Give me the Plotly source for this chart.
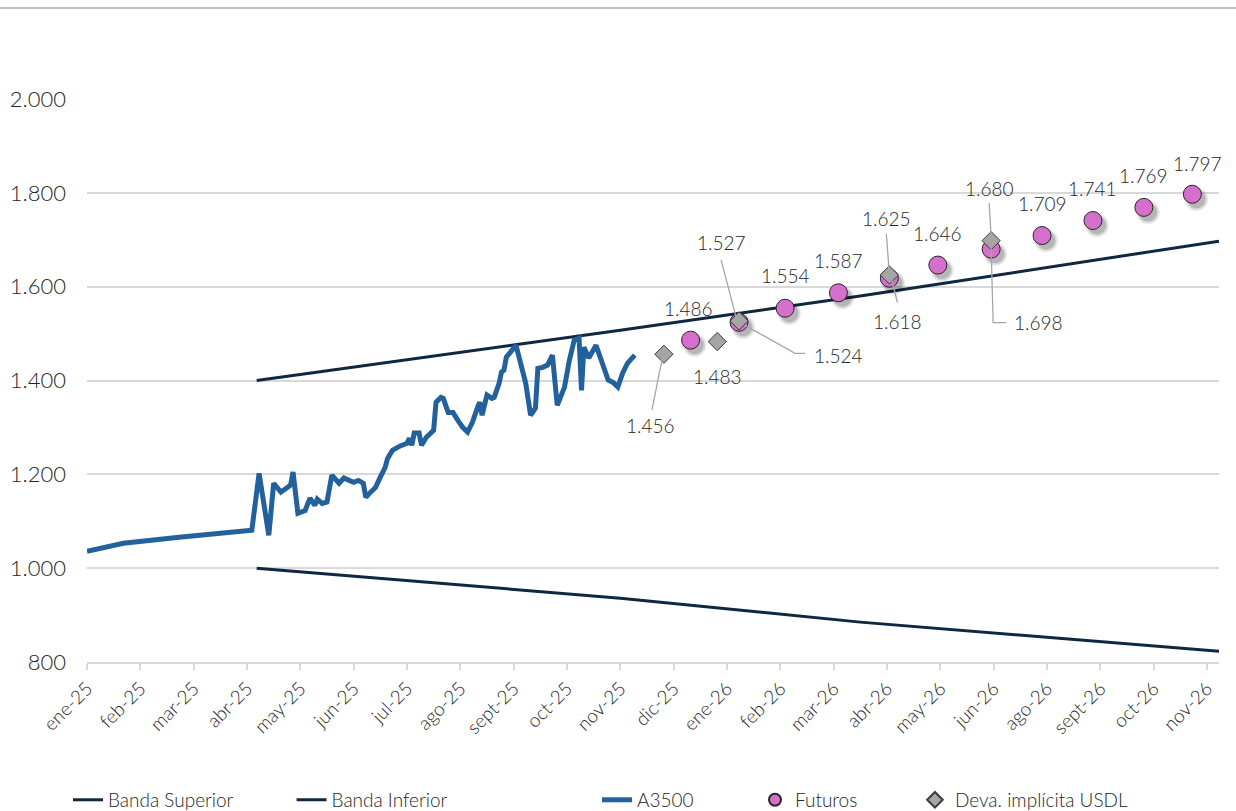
import plotly.graph_objects as go

# ---- eje X: días hábiles, con rótulo cada 22 ruedas ----
meses = ["ene-25", "feb-25", "mar-25", "abr-25", "may-25", "jun-25", "jul-25",
         "ago-25", "sept-25", "oct-25", "nov-25", "dic-25", "ene-26", "feb-26",
         "mar-26", "abr-26", "may-26", "jun-26", "ago-26", "sept-26", "oct-26",
         "nov-26"]
dias_rotulo = [22 * i for i in range(len(meses))]

# ---- tipo de cambio mayorista A3500 ----
dias_a3500 = [0, 15, 38, 68, 71, 75, 77, 80, 84, 85, 87, 90, 92, 94, 95, 97, 99,
              101, 104, 106, 110, 112, 114, 115, 117, 119, 121, 123, 124, 126,
              129, 132, 133, 134, 135, 137, 138, 140, 143, 144, 146, 147, 149,
              151, 153, 155, 157, 159, 161, 162, 163, 165, 167, 168, 170, 171,
              172, 173, 177, 181, 183, 185, 186, 188, 190, 192, 194, 197, 199,
              201, 203, 204, 205, 207, 210, 212, 215, 217, 219, 221, 223, 226]
a3500 = [1036, 1053, 1066, 1081, 1202, 1070, 1181, 1162, 1177, 1205, 1117, 1123,
         1149, 1134, 1147, 1138, 1141, 1198, 1181, 1192, 1183, 1187, 1181, 1151,
         1162, 1172, 1194, 1215, 1234, 1251, 1260, 1266, 1277, 1262, 1288, 1288,
         1262, 1279, 1294, 1354, 1364, 1362, 1332, 1332, 1315, 1300, 1290, 1311,
         1341, 1354, 1326, 1369, 1362, 1364, 1394, 1418, 1422, 1450, 1475, 1394,
         1326, 1341, 1426, 1428, 1433, 1454, 1347, 1386, 1443, 1486, 1490, 1379,
         1471, 1448, 1475, 1443, 1401, 1396, 1386, 1416, 1437, 1454]

# ---- bandas cambiarias ----
dias_banda = [70, 220, 319, 467]
banda_superior = [1400, 1507, 1580, 1697]
banda_inferior = [1000, 936, 885, 823]

# ---- futuros y devaluación implícita ----
dias_futuros = [249, 269, 288, 310, 331, 351, 373, 394, 415, 436, 456]
futuros = [1486, 1524, 1554, 1587, 1618, 1646, 1680, 1709, 1741, 1769, 1797]

dias_deva = [238, 260, 269, 331, 373]
deva_usdl = [1456, 1483, 1527, 1625, 1698]

AZUL_BANDA = "#0E2841"
AZUL_A3500 = "#22619C"
ROSA = "#D66FCB"
GRIS = "#A5A5A5"
TEXTO = "#262626"
GRILLA = "#D9D9D9"
FUENTE = "Lato"
PESO = 300


def fmt(v):
    return f"{v:,}".replace(",", ".")


def letra(tam):
    return dict(size=tam, color=TEXTO, family=FUENTE, weight=PESO)


fig = go.Figure()

fig.add_trace(go.Scatter(x=dias_banda, y=banda_superior, mode="lines",
                         name="Banda Superior", legend="legend",
                         line=dict(color=AZUL_BANDA, width=3)))
fig.add_trace(go.Scatter(x=dias_banda, y=banda_inferior, mode="lines",
                         name="Banda Inferior", legend="legend2",
                         line=dict(color=AZUL_BANDA, width=3)))
fig.add_trace(go.Scatter(x=dias_a3500, y=a3500, mode="lines",
                         name="A3500", legend="legend3",
                         line=dict(color=AZUL_A3500, width=5, shape="linear")))

# sombra difusa de los círculos (desplazada abajo a la derecha)
sombra_dx = 1.7
sombra_dy = -10.5
for tam, alfa in [(24, 0.07), (21, 0.10), (18, 0.14)]:
    fig.add_trace(go.Scatter(
        x=[d + sombra_dx for d in dias_futuros],
        y=[v + sombra_dy for v in futuros],
        mode="markers", showlegend=False, hoverinfo="skip",
        marker=dict(size=tam, color=f"rgba(0,0,0,{alfa})", line=dict(width=0))))

fig.add_trace(go.Scatter(x=dias_futuros, y=futuros, mode="markers",
                         name="Futuros", legend="legend4",
                         marker=dict(size=18, color=ROSA, symbol="circle",
                                     line=dict(color="#262626", width=1))))
fig.add_trace(go.Scatter(x=dias_deva, y=deva_usdl, mode="markers",
                         name="Deva. implícita USDL", legend="legend5",
                         marker=dict(size=14, color=GRIS, symbol="diamond",
                                     line=dict(color="#3A3A3A", width=1))))

# ---- rótulos de datos ----
# (desplazamiento del texto en px, guía opcional en px relativa al punto)
rotulos_futuros = {
    0: (-2, 32, None),
    1: (99, -33, "M 6,-3 L 56,-31 L 66,-31"),
    2: (0, 33, None),
    3: (0, 32, None),
    4: (8, -43, "M 2,0 L 8,-24"),
    5: (0, 32, None),
    6: (-2, 61, "M -2,46 L 0,12"),
    7: (0, 32, None),
    8: (0, 32, None),
    9: (0, 32, None),
    10: (5, 31, None),
}
rotulos_deva = {
    0: (-13, -71, "M -2,-6 L -12,-56"),
    1: (0, -35, None),
    2: (-18, 78, "M -18,61 L -3,4"),
    3: (-3, 56, "M -3,41 L 0,1"),
    4: (47, -82, "M 0,-8 L 2,-82 L 15,-82"),
}

anotaciones = []
guias = []
for serie_x, serie_y, rot in [(dias_futuros, futuros, rotulos_futuros),
                              (dias_deva, deva_usdl, rotulos_deva)]:
    for i, (dx, dy, guia) in rot.items():
        anotaciones.append(dict(x=serie_x[i], y=serie_y[i], text=fmt(serie_y[i]),
                                showarrow=False, xshift=dx, yshift=dy,
                                font=letra(19)))
        if guia:
            guias.append(dict(type="path", xref="x", yref="y",
                              xsizemode="pixel", ysizemode="pixel",
                              xanchor=serie_x[i], yanchor=serie_y[i], path=guia,
                              line=dict(color="#A6A6A6", width=1.3), layer="above"))

# línea gris superior
guias.append(dict(type="line", xref="paper", yref="paper", x0=-0.08, x1=1.02,
                  y0=1.1616, y1=1.1616, line=dict(color="#BFBFBF", width=2),
                  layer="above"))

ley = dict(orientation="h", yanchor="middle", y=-0.245, xanchor="left",
           bgcolor="rgba(0,0,0,0)", font=letra(19), borderwidth=0)

fig.update_layout(
    width=1236, height=811,
    margin=dict(l=87, r=17, t=99, b=149, autoexpand=False),
    paper_bgcolor="white", plot_bgcolor="white",
    separators=",.",
    font=letra(19),
    annotations=anotaciones,
    shapes=guias,
    legend=dict(ley, x=-0.0168, itemsizing="trace"),
    legend2=dict(ley, x=0.1807, itemsizing="trace"),
    legend3=dict(ley, x=0.4505, itemsizing="trace"),
    legend4=dict(ley, x=0.5901, itemsizing="constant"),
    legend5=dict(ley, x=0.7314, itemsizing="constant"),
    xaxis=dict(range=[0, 467], tickmode="array", tickvals=dias_rotulo,
               ticktext=meses, tickangle=-45, ticks="outside", ticklen=6,
               tickcolor=GRILLA, tickwidth=1.5, showline=True, linecolor=GRILLA,
               linewidth=2, showgrid=False, zeroline=False, automargin=False,
               tickfont=letra(19)),
    yaxis=dict(range=[800, 2000], tickmode="linear", tick0=800, dtick=200,
               tickformat=",d", showgrid=True, gridcolor=GRILLA, gridwidth=2,
               zeroline=False, showline=False, ticks="", ticklabelstandoff=20,
               automargin=False, tickfont=letra(22)),
)

fig.write_html("out.html")
